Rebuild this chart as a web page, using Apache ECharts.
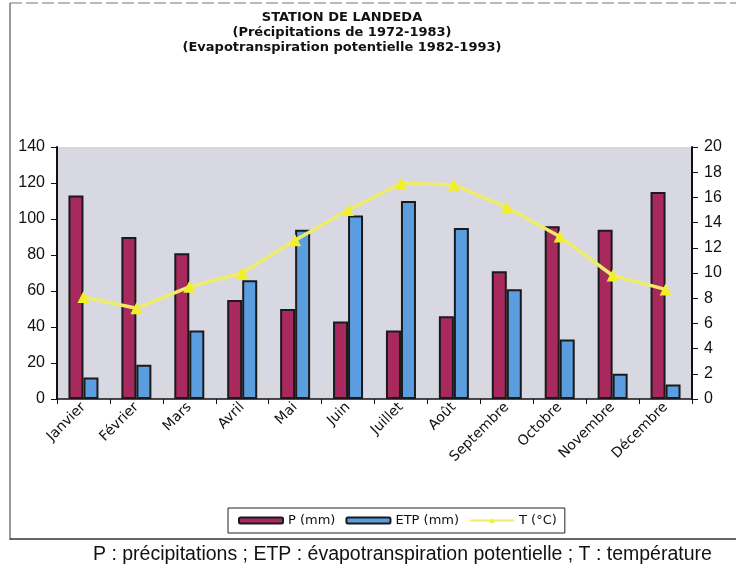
<!DOCTYPE html>
<html>
<head>
<meta charset="utf-8">
<script src="https://cdn.jsdelivr.net/npm/echarts@6/dist/echarts.min.js"></script>
<style>
  body { margin: 0; background: #fff; }
  #main { width: 736px; height: 571px; }
</style>
</head>
<body>
<div id="main"></div>
<script>
// months
var months = ['Janvier', 'Février', 'Mars', 'Avril', 'Mai', 'Juin', 'Juillet', 'Août', 'Septembre', 'Octobre', 'Novembre', 'Décembre'];
// precipitation (mm)
var precip = [113, 90, 81, 55, 50, 43, 38, 46, 71, 96, 94, 115];
// potential evapotranspiration (mm)
var etp = [12, 19, 38, 66, 94, 102, 110, 95, 61, 33, 14, 8];
// temperature (°C)
var temp = [8.1, 7.2, 8.9, 10, 12.6, 15, 17.1, 17, 15.2, 12.9, 9.8, 8.7];

var chart = echarts.init(document.getElementById('main'));

var options = {
    animation: false,
    textStyle: { fontFamily: 'Liberation Sans, Arial, sans-serif' },
    title: {
        text: 'STATION DE LANDEDA\n(Précipitations de 1972-1983)\n(Evapotranspiration potentielle 1982-1993)',
        left: 337,
        textAlign: 'center',
        top: 5,
        textStyle: { fontSize: 13, fontWeight: 'bold', color: '#111', lineHeight: 15, fontFamily: 'DejaVu Sans' }
    },
    legend: {
        left: 228,
        top: 508,
        padding: [6, 8, 6, 10],
        borderColor: '#222',
        borderWidth: 1,
        itemWidth: 44,
        itemHeight: 6,
        itemGap: 10,
        textStyle: { fontSize: 13, color: '#111', fontFamily: 'DejaVu Sans' },
        data: ['P (mm)', 'ETP (mm)', 'T (°C)']
    },
    grid: {
        left: 57,
        right: 44,
        top: 147,
        bottom: 172,
        show: true,
        backgroundColor: '#d8d8e2',
        borderWidth: 0
    },
    xAxis: {
        type: 'category',
        data: months,
        axisLine: { lineStyle: { color: '#111', width: 1.5 } },
        axisTick: { show: true, lineStyle: { color: '#111' } },
        axisLabel: { rotate: 45, interval: 0, fontSize: 14, color: '#111', margin: 6, fontFamily: 'DejaVu Sans' }
    },
    yAxis: [{
        type: 'value',
        min: 0,
        max: 140,
        interval: 20,
        axisLine: { show: true, lineStyle: { color: '#111', width: 2 } },
        axisTick: { show: true, length: 6, lineStyle: { color: '#111' } },
        axisLabel: { fontSize: 16, color: '#111', margin: 12 },
        splitLine: { show: false }
    }, {
        type: 'value',
        min: 0,
        max: 20,
        interval: 2,
        axisLine: { show: true, lineStyle: { color: '#111', width: 2 } },
        axisTick: { show: true, length: 6, lineStyle: { color: '#111' } },
        axisLabel: { fontSize: 16, color: '#111', margin: 12 },
        splitLine: { show: false }
    }],
    series: [{
        name: 'P (mm)',
        type: 'bar',
        data: precip,
        barWidth: 15,
        barGap: '0%',
        itemStyle: { color: '#a8295e', borderColor: '#1a1a1a', borderWidth: 2 }
    }, {
        name: 'ETP (mm)',
        type: 'bar',
        data: etp,
        barWidth: 15,
        itemStyle: { color: '#5b9ee0', borderColor: '#1a1a1a', borderWidth: 2 }
    }, {
        name: 'T (°C)',
        type: 'line',
        yAxisIndex: 1,
        data: temp,
        symbol: 'triangle',
        symbolSize: 12,
        itemStyle: { color: '#f2ee2a' },
        lineStyle: { color: '#eeec6a', width: 3.5 }
    }],
    graphic: [{
        type: 'line',
        shape: { x1: 10, y1: 3, x2: 10, y2: 540 },
        style: { stroke: '#333', lineWidth: 1 }
    }, {
        type: 'line',
        shape: { x1: 10, y1: 539, x2: 736, y2: 539 },
        style: { stroke: '#333', lineWidth: 1.5 }
    }, {
        type: 'line',
        shape: { x1: 10, y1: 3, x2: 736, y2: 3 },
        style: { stroke: '#777', lineWidth: 1, lineDash: [12, 4] }
    }, {
        type: 'text',
        left: 93,
        top: 545,
        style: {
            text: 'P : précipitations ; ETP : évapotranspiration potentielle ; T : température',
            font: '19.5px "Liberation Sans", Arial, sans-serif',
            fill: '#111'
        }
    }]
};

chart.setOption(options);
</script>
</body>
</html>
